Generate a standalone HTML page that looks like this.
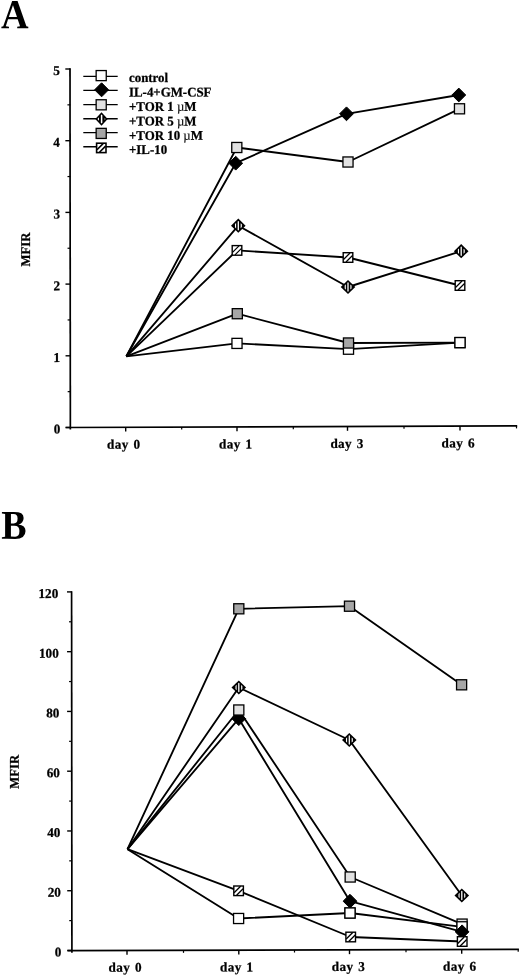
<!DOCTYPE html>
<html lang="en">
<head>
<meta charset="utf-8">
<title>Figure: MFIR time course</title>
<style>
html,body{margin:0;padding:0;background:#fff;}
body{width:520px;height:976px;overflow:hidden;}
svg{display:block;}
svg text{font-family:"Liberation Serif", "DejaVu Serif", serif;font-weight:bold;fill:#000;stroke:#000;stroke-width:0.25px;}
svg text .mu{font-weight:normal;stroke-width:0.1px;}
</style>
</head>
<body>
<svg width="520" height="976" viewBox="0 0 520 976">
<rect width="520" height="976" fill="#fff"/>

<text transform="translate(0.9,28.3) rotate(0.05) scale(0.955,1.03)" font-size="40" style="stroke-width:0">A</text>
<text transform="translate(1.3,538.8) rotate(0.05) scale(0.95,1.025)" font-size="40" style="stroke-width:0">B</text>
<g id="chartA">
<line x1="70" y1="68.3" x2="70.35" y2="429.6" stroke="#000" stroke-width="1.7"/>
<line x1="65.6" y1="427.5" x2="70.6" y2="427.5" stroke="#000" stroke-width="1.4"/>
<text transform="translate(60.3 433.6) rotate(-0.05) scale(1 1.02)" font-size="13.2" text-anchor="end" >0</text>
<line x1="67.67" y1="391.65" x2="70.57" y2="391.65" stroke="#000" stroke-width="1.2"/>
<line x1="65.54" y1="355.8" x2="70.54" y2="355.8" stroke="#000" stroke-width="1.4"/>
<text transform="translate(60.2 361.9) rotate(-0.05) scale(1 1.02)" font-size="13.2" text-anchor="end" >1</text>
<line x1="67.61" y1="319.95" x2="70.51" y2="319.95" stroke="#000" stroke-width="1.2"/>
<line x1="65.48" y1="284.1" x2="70.48" y2="284.1" stroke="#000" stroke-width="1.4"/>
<text transform="translate(60.1 290.2) rotate(-0.05) scale(1 1.02)" font-size="13.2" text-anchor="end" >2</text>
<line x1="67.55" y1="248.25" x2="70.45" y2="248.25" stroke="#000" stroke-width="1.2"/>
<line x1="65.42" y1="212.4" x2="70.42" y2="212.4" stroke="#000" stroke-width="1.4"/>
<text transform="translate(60 218.5) rotate(-0.05) scale(1 1.02)" font-size="13.2" text-anchor="end" >3</text>
<line x1="67.49" y1="176.55" x2="70.39" y2="176.55" stroke="#000" stroke-width="1.2"/>
<line x1="65.36" y1="140.7" x2="70.36" y2="140.7" stroke="#000" stroke-width="1.4"/>
<text transform="translate(59.9 146.8) rotate(-0.05) scale(1 1.02)" font-size="13.2" text-anchor="end" >4</text>
<line x1="67.43" y1="104.85" x2="70.33" y2="104.85" stroke="#000" stroke-width="1.2"/>
<line x1="65.3" y1="69" x2="70.3" y2="69" stroke="#000" stroke-width="1.4"/>
<text transform="translate(59.8 75.1) rotate(-0.05) scale(1 1.02)" font-size="13.2" text-anchor="end" >5</text>
<line x1="65.6" y1="427.5" x2="517.2" y2="425.9" stroke="#000" stroke-width="1.7"/>
<line x1="125.7" y1="427.29" x2="125.7" y2="431.59" stroke="#000" stroke-width="1.4"/>
<line x1="237" y1="426.89" x2="237" y2="431.19" stroke="#000" stroke-width="1.4"/>
<line x1="347.5" y1="426.5" x2="347.5" y2="430.8" stroke="#000" stroke-width="1.4"/>
<line x1="460" y1="426.1" x2="460" y2="430.4" stroke="#000" stroke-width="1.4"/>
<line x1="181.7" y1="427.09" x2="181.7" y2="429.59" stroke="#000" stroke-width="1.2"/>
<line x1="293.3" y1="426.69" x2="293.3" y2="429.19" stroke="#000" stroke-width="1.2"/>
<line x1="404" y1="426.3" x2="404" y2="428.8" stroke="#000" stroke-width="1.2"/>
<line x1="516.5" y1="425.9" x2="516.5" y2="428.4" stroke="#000" stroke-width="1.2"/>
<text transform="translate(107 448.8) rotate(-0.05) scale(1 1.0)" font-size="13.2" text-anchor="start" letter-spacing="0.35">day</text>
<text transform="translate(133.4 448.8) rotate(-0.05) scale(1 1.02)" font-size="13.2" text-anchor="start" >0</text>
<text transform="translate(219 448.4) rotate(-0.05) scale(1 1.0)" font-size="13.2" text-anchor="start" letter-spacing="0.35">day</text>
<text transform="translate(245.4 448.4) rotate(-0.05) scale(1 1.02)" font-size="13.2" text-anchor="start" >1</text>
<text transform="translate(330.4 448) rotate(-0.05) scale(1 1.0)" font-size="13.2" text-anchor="start" letter-spacing="0.35">day</text>
<text transform="translate(356.8 448) rotate(-0.05) scale(1 1.02)" font-size="13.2" text-anchor="start" >3</text>
<text transform="translate(441.6 447.6) rotate(-0.05) scale(1 1.0)" font-size="13.2" text-anchor="start" letter-spacing="0.35">day</text>
<text transform="translate(468 447.6) rotate(-0.05) scale(1 1.02)" font-size="13.2" text-anchor="start" >6</text>
<text transform="translate(29.9,249.5) rotate(-90.05) scale(1 1.05)" font-size="12.7" text-anchor="middle">MFIR</text>
<polyline points="126.4,356.3 237,343.4 348.5,349.2 460,342.6" fill="none" stroke="#000" stroke-width="1.85" stroke-linejoin="round"/>
<polyline points="126.4,356.3 235.7,163.2 346.5,113.8 458.8,95" fill="none" stroke="#000" stroke-width="1.85" stroke-linejoin="round"/>
<polyline points="126.4,356.3 236.8,147.5 348,162 459.5,108.8" fill="none" stroke="#000" stroke-width="1.85" stroke-linejoin="round"/>
<polyline points="126.4,356.3 238.3,225.7 348,287 461.2,251.2" fill="none" stroke="#000" stroke-width="1.85" stroke-linejoin="round"/>
<polyline points="126.4,356.3 237.3,313.7 348.5,343 460,342.6" fill="none" stroke="#000" stroke-width="1.85" stroke-linejoin="round"/>
<polyline points="126.4,356.3 237,250.4 348,257.5 460,285.5" fill="none" stroke="#000" stroke-width="1.85" stroke-linejoin="round"/>
<rect x="231.95" y="338.35" width="10.1" height="10.1" fill="#fff" stroke="#000" stroke-width="1.3"/>
<rect x="343.45" y="344.15" width="10.1" height="10.1" fill="#fff" stroke="#000" stroke-width="1.3"/>
<rect x="454.95" y="337.55" width="10.1" height="10.1" fill="#fff" stroke="#000" stroke-width="1.3"/>
<path d="M228.8 163.2L235.7 156.3L242.6 163.2L235.7 170.1Z" fill="#000" stroke="#000" stroke-width="1.0"/>
<path d="M339.6 113.8L346.5 106.9L353.4 113.8L346.5 120.7Z" fill="#000" stroke="#000" stroke-width="1.0"/>
<path d="M451.9 95L458.8 88.1L465.7 95L458.8 101.9Z" fill="#000" stroke="#000" stroke-width="1.0"/>
<rect x="231.75" y="142.45" width="10.1" height="10.1" fill="#e2e2e2" stroke="#000" stroke-width="1.3"/>
<rect x="342.95" y="156.95" width="10.1" height="10.1" fill="#e2e2e2" stroke="#000" stroke-width="1.3"/>
<rect x="454.45" y="103.75" width="10.1" height="10.1" fill="#e2e2e2" stroke="#000" stroke-width="1.3"/>
<path d="M231 225.7L238.3 218.6L245.6 225.7L238.3 232.8Z" fill="#000"/><path d="M234.98 224.09L236.12 222.99L236.12 228.41L234.98 227.31ZM237.65 221.52L238.3 220.9L238.95 221.52L238.95 229.88L238.3 230.5L237.65 229.88ZM240.65 223.16L241.85 224.31L241.85 227.09L240.65 228.24Z" fill="#fff"/>
<path d="M340.7 287L348 279.9L355.3 287L348 294.1Z" fill="#000"/><path d="M344.68 285.39L345.82 284.29L345.82 289.71L344.68 288.61ZM347.35 282.82L348 282.2L348.65 282.82L348.65 291.18L348 291.8L347.35 291.18ZM350.35 284.46L351.55 285.61L351.55 288.39L350.35 289.54Z" fill="#fff"/>
<path d="M453.9 251.2L461.2 244.1L468.5 251.2L461.2 258.3Z" fill="#000"/><path d="M457.88 249.59L459.02 248.49L459.02 253.91L457.88 252.81ZM460.55 247.02L461.2 246.4L461.85 247.02L461.85 255.38L461.2 256L460.55 255.38ZM463.55 248.66L464.75 249.81L464.75 252.59L463.55 253.74Z" fill="#fff"/>
<rect x="232.25" y="308.65" width="10.1" height="10.1" fill="#a6a6a6" stroke="#000" stroke-width="1.3"/>
<rect x="343.45" y="337.95" width="10.1" height="10.1" fill="#a6a6a6" stroke="#000" stroke-width="1.3"/>
<rect x="232.2" y="245.6" width="9.6" height="9.6" fill="#fff"/><path d="M232.5 252.4L239 245.9M241.5 248.4L235 254.9" stroke="#000" stroke-width="1.3" fill="none"/><rect x="232.2" y="245.6" width="9.6" height="9.6" fill="none" stroke="#000" stroke-width="1.4"/>
<rect x="343.2" y="252.7" width="9.6" height="9.6" fill="#fff"/><path d="M343.5 259.5L350 253M352.5 255.5L346 262" stroke="#000" stroke-width="1.3" fill="none"/><rect x="343.2" y="252.7" width="9.6" height="9.6" fill="none" stroke="#000" stroke-width="1.4"/>
<rect x="455.2" y="280.7" width="9.6" height="9.6" fill="#fff"/><path d="M455.5 287.5L462 281M464.5 283.5L458 290" stroke="#000" stroke-width="1.3" fill="none"/><rect x="455.2" y="280.7" width="9.6" height="9.6" fill="none" stroke="#000" stroke-width="1.4"/>
<rect x="454.95" y="337.55" width="10.1" height="10.1" fill="#fff" stroke="#000" stroke-width="1.3"/>
<line x1="83.3" y1="76.3" x2="117.7" y2="76.3" stroke="#000" stroke-width="1.35"/>
<rect x="96.15" y="70.55" width="10.1" height="10.1" fill="#fff" stroke="#000" stroke-width="1.3"/>
<text transform="translate(129 82) rotate(-0.05) scale(1 1.03)" font-size="12.9" text-anchor="start" >control</text>
<line x1="83.3" y1="90.4" x2="117.7" y2="90.4" stroke="#000" stroke-width="1.35"/>
<path d="M94.6 89.8L101.6 82.8L108.6 89.8L101.6 96.8Z" fill="#000" stroke="#000" stroke-width="1.0"/>
<text transform="translate(129 96.5) rotate(-0.05) scale(1 1.03)" font-size="12.9" text-anchor="start" >IL-4+GM-CSF</text>
<line x1="83.3" y1="104.6" x2="117.7" y2="104.6" stroke="#000" stroke-width="1.35"/>
<rect x="96.15" y="99.75" width="10.1" height="10.1" fill="#e2e2e2" stroke="#000" stroke-width="1.3"/>
<text transform="translate(129 110.9) rotate(-0.05) scale(1 1.03)" font-size="12.9" text-anchor="start" >+TOR 1 <tspan class="mu">µ</tspan>M</text>
<line x1="83.3" y1="118.7" x2="117.7" y2="118.7" stroke="#000" stroke-width="1.35"/>
<path d="M95.3 119L101.5 112.3L107.7 119L101.5 125.7Z" fill="#000"/><path d="M97.5 118.89L99 117.2L99 120.8L97.5 119.11ZM100.85 115.13L101.5 114.4L102.35 115.35L102.35 122.65L101.5 123.6L100.85 122.87ZM104.65 117.93L105.35 118.72L105.35 119.28L104.65 120.07Z" fill="#fff"/>
<text transform="translate(129 125.5) rotate(-0.05) scale(1 1.03)" font-size="12.9" text-anchor="start" >+TOR 5 <tspan class="mu">µ</tspan>M</text>
<line x1="83.3" y1="132.6" x2="117.7" y2="132.6" stroke="#000" stroke-width="1.35"/>
<rect x="96.15" y="128.35" width="10.1" height="10.1" fill="#a6a6a6" stroke="#000" stroke-width="1.3"/>
<text transform="translate(129 139.9) rotate(-0.05) scale(1 1.03)" font-size="12.9" text-anchor="start" >+TOR 10 <tspan class="mu">µ</tspan>M</text>
<line x1="83.3" y1="146.7" x2="117.7" y2="146.7" stroke="#000" stroke-width="1.35"/>
<rect x="96.6" y="143.2" width="9.4" height="9.4" fill="#fff"/><path d="M97 149.7L103.1 143.6M105.6 146.1L99.5 152.2" stroke="#000" stroke-width="1.6" fill="none"/><rect x="96.6" y="143.2" width="9.4" height="9.4" fill="none" stroke="#000" stroke-width="1.6"/>
<text transform="translate(129 154.1) rotate(-0.05) scale(1 1.03)" font-size="12.9" text-anchor="start" >+IL-10</text>
</g>
<g id="chartB">
<line x1="71.6" y1="591.2" x2="71.9" y2="952.7" stroke="#000" stroke-width="1.7"/>
<line x1="67.25" y1="950.5" x2="72.15" y2="950.5" stroke="#000" stroke-width="1.4"/>
<text transform="translate(61.4 956.5) rotate(-0.05) scale(1 1.02)" font-size="13.2" text-anchor="end" >0</text>
<line x1="69.23" y1="920.62" x2="72.13" y2="920.62" stroke="#000" stroke-width="1.2"/>
<line x1="67.21" y1="890.73" x2="72.11" y2="890.73" stroke="#000" stroke-width="1.4"/>
<text transform="translate(60.88 896.73) rotate(-0.05) scale(1 1.02)" font-size="13.2" text-anchor="end" >20</text>
<line x1="69.19" y1="860.85" x2="72.09" y2="860.85" stroke="#000" stroke-width="1.2"/>
<line x1="67.17" y1="830.97" x2="72.07" y2="830.97" stroke="#000" stroke-width="1.4"/>
<text transform="translate(60.37 836.97) rotate(-0.05) scale(1 1.02)" font-size="13.2" text-anchor="end" >40</text>
<line x1="69.15" y1="801.08" x2="72.05" y2="801.08" stroke="#000" stroke-width="1.2"/>
<line x1="67.12" y1="771.2" x2="72.02" y2="771.2" stroke="#000" stroke-width="1.4"/>
<text transform="translate(59.85 777.2) rotate(-0.05) scale(1 1.02)" font-size="13.2" text-anchor="end" >60</text>
<line x1="69.1" y1="741.32" x2="72" y2="741.32" stroke="#000" stroke-width="1.2"/>
<line x1="67.08" y1="711.43" x2="71.98" y2="711.43" stroke="#000" stroke-width="1.4"/>
<text transform="translate(59.33 717.43) rotate(-0.05) scale(1 1.02)" font-size="13.2" text-anchor="end" >80</text>
<line x1="69.06" y1="681.55" x2="71.96" y2="681.55" stroke="#000" stroke-width="1.2"/>
<line x1="67.04" y1="651.67" x2="71.94" y2="651.67" stroke="#000" stroke-width="1.4"/>
<text transform="translate(58.82 657.67) rotate(-0.05) scale(1 1.02)" font-size="13.2" text-anchor="end" >100</text>
<line x1="69.02" y1="621.78" x2="71.92" y2="621.78" stroke="#000" stroke-width="1.2"/>
<line x1="67" y1="591.9" x2="71.9" y2="591.9" stroke="#000" stroke-width="1.4"/>
<text transform="translate(58.3 597.9) rotate(-0.05) scale(1 1.02)" font-size="13.2" text-anchor="end" >120</text>
<line x1="67.5" y1="950.7" x2="518.9" y2="949.35" stroke="#000" stroke-width="1.7"/>
<line x1="127" y1="950.52" x2="127" y2="954.82" stroke="#000" stroke-width="1.4"/>
<line x1="238.8" y1="950.19" x2="238.8" y2="954.49" stroke="#000" stroke-width="1.4"/>
<line x1="349.5" y1="949.86" x2="349.5" y2="954.16" stroke="#000" stroke-width="1.4"/>
<line x1="461.7" y1="949.52" x2="461.7" y2="953.82" stroke="#000" stroke-width="1.4"/>
<line x1="183.5" y1="950.35" x2="183.5" y2="952.85" stroke="#000" stroke-width="1.2"/>
<line x1="294.5" y1="950.02" x2="294.5" y2="952.52" stroke="#000" stroke-width="1.2"/>
<line x1="406" y1="949.69" x2="406" y2="952.19" stroke="#000" stroke-width="1.2"/>
<line x1="518.2" y1="949.35" x2="518.2" y2="951.85" stroke="#000" stroke-width="1.2"/>
<text transform="translate(108.5 971.8) rotate(-0.05) scale(1 1.0)" font-size="13.2" text-anchor="start" letter-spacing="0.35">day</text>
<text transform="translate(134.9 971.8) rotate(-0.05) scale(1 1.02)" font-size="13.2" text-anchor="start" >0</text>
<text transform="translate(220 971.4) rotate(-0.05) scale(1 1.0)" font-size="13.2" text-anchor="start" letter-spacing="0.35">day</text>
<text transform="translate(246.4 971.4) rotate(-0.05) scale(1 1.02)" font-size="13.2" text-anchor="start" >1</text>
<text transform="translate(331.8 971.1) rotate(-0.05) scale(1 1.0)" font-size="13.2" text-anchor="start" letter-spacing="0.35">day</text>
<text transform="translate(358.2 971.1) rotate(-0.05) scale(1 1.02)" font-size="13.2" text-anchor="start" >3</text>
<text transform="translate(443.1 970.7) rotate(-0.05) scale(1 1.0)" font-size="13.2" text-anchor="start" letter-spacing="0.35">day</text>
<text transform="translate(469.5 970.7) rotate(-0.05) scale(1 1.02)" font-size="13.2" text-anchor="start" >6</text>
<text transform="translate(18.8,771.8) rotate(-90.05) scale(1 1.05)" font-size="12.7" text-anchor="middle">MFIR</text>
<polyline points="127.5,849.2 238.6,918.5 350,913 462,926.8" fill="none" stroke="#000" stroke-width="1.85" stroke-linejoin="round"/>
<polyline points="127.5,849.2 238.8,718.7 350,901.2 462.1,931.8" fill="none" stroke="#000" stroke-width="1.85" stroke-linejoin="round"/>
<polyline points="127.5,849.2 238.8,710 350.2,877 462.1,924.1" fill="none" stroke="#000" stroke-width="1.85" stroke-linejoin="round"/>
<polyline points="127.5,849.2 238.8,687.5 349.3,740 461.8,895.5" fill="none" stroke="#000" stroke-width="1.85" stroke-linejoin="round"/>
<polyline points="127.5,849.2 238.8,608.8 349.5,606.2 461.6,684.8" fill="none" stroke="#000" stroke-width="1.85" stroke-linejoin="round"/>
<polyline points="127.5,849.2 238.6,890.8 350.7,937 462.2,941.5" fill="none" stroke="#000" stroke-width="1.85" stroke-linejoin="round"/>
<rect x="233.55" y="913.45" width="10.1" height="10.1" fill="#fff" stroke="#000" stroke-width="1.3"/>
<rect x="344.95" y="907.95" width="10.1" height="10.1" fill="#fff" stroke="#000" stroke-width="1.3"/>
<path d="M231.9 718.7L238.8 711.8L245.7 718.7L238.8 725.6Z" fill="#000" stroke="#000" stroke-width="1.0"/>
<path d="M343.1 901.2L350 894.3L356.9 901.2L350 908.1Z" fill="#000" stroke="#000" stroke-width="1.0"/>
<rect x="233.75" y="704.95" width="10.1" height="10.1" fill="#e2e2e2" stroke="#000" stroke-width="1.3"/>
<rect x="345.15" y="871.95" width="10.1" height="10.1" fill="#e2e2e2" stroke="#000" stroke-width="1.3"/>
<path d="M231.5 687.5L238.8 680.4L246.1 687.5L238.8 694.6Z" fill="#000"/><path d="M235.48 685.89L236.62 684.79L236.62 690.21L235.48 689.11ZM238.15 683.32L238.8 682.7L239.45 683.32L239.45 691.68L238.8 692.3L238.15 691.68ZM241.15 684.96L242.35 686.11L242.35 688.89L241.15 690.04Z" fill="#fff"/>
<path d="M342 740L349.3 732.9L356.6 740L349.3 747.1Z" fill="#000"/><path d="M345.98 738.39L347.12 737.29L347.12 742.71L345.98 741.61ZM348.65 735.82L349.3 735.2L349.95 735.82L349.95 744.18L349.3 744.8L348.65 744.18ZM351.65 737.46L352.85 738.61L352.85 741.39L351.65 742.54Z" fill="#fff"/>
<rect x="233.75" y="603.75" width="10.1" height="10.1" fill="#a6a6a6" stroke="#000" stroke-width="1.3"/>
<rect x="344.45" y="601.15" width="10.1" height="10.1" fill="#a6a6a6" stroke="#000" stroke-width="1.3"/>
<rect x="233.8" y="886" width="9.6" height="9.6" fill="#fff"/><path d="M234.1 892.8L240.6 886.3M243.1 888.8L236.6 895.3" stroke="#000" stroke-width="1.3" fill="none"/><rect x="233.8" y="886" width="9.6" height="9.6" fill="none" stroke="#000" stroke-width="1.4"/>
<rect x="345.9" y="932.2" width="9.6" height="9.6" fill="#fff"/><path d="M346.2 939L352.7 932.5M355.2 935L348.7 941.5" stroke="#000" stroke-width="1.3" fill="none"/><rect x="345.9" y="932.2" width="9.6" height="9.6" fill="none" stroke="#000" stroke-width="1.4"/>
<rect x="344.95" y="907.95" width="10.1" height="10.1" fill="#fff" stroke="#000" stroke-width="1.3"/>
<path d="M454.5 895.5L461.8 888.4L469.1 895.5L461.8 902.6Z" fill="#000"/><path d="M458.48 893.89L459.62 892.79L459.62 898.21L458.48 897.11ZM461.15 891.32L461.8 890.7L462.45 891.32L462.45 899.68L461.8 900.3L461.15 899.68ZM464.15 892.96L465.35 894.11L465.35 896.89L464.15 898.04Z" fill="#fff"/>
<rect x="456.55" y="679.75" width="10.1" height="10.1" fill="#a6a6a6" stroke="#000" stroke-width="1.3"/>
<rect x="457.05" y="919.05" width="10.1" height="10.1" fill="#e2e2e2" stroke="#000" stroke-width="1.3"/>
<rect x="456.95" y="921.75" width="10.1" height="10.1" fill="#fff" stroke="#000" stroke-width="1.3"/>
<path d="M455.2 931.8L462.1 924.9L469 931.8L462.1 938.7Z" fill="#000" stroke="#000" stroke-width="1.0"/>
<rect x="457.4" y="936.7" width="9.6" height="9.6" fill="#fff"/><path d="M457.7 943.5L464.2 937M466.7 939.5L460.2 946" stroke="#000" stroke-width="1.3" fill="none"/><rect x="457.4" y="936.7" width="9.6" height="9.6" fill="none" stroke="#000" stroke-width="1.4"/>
</g>
</svg>
</body>
</html>
